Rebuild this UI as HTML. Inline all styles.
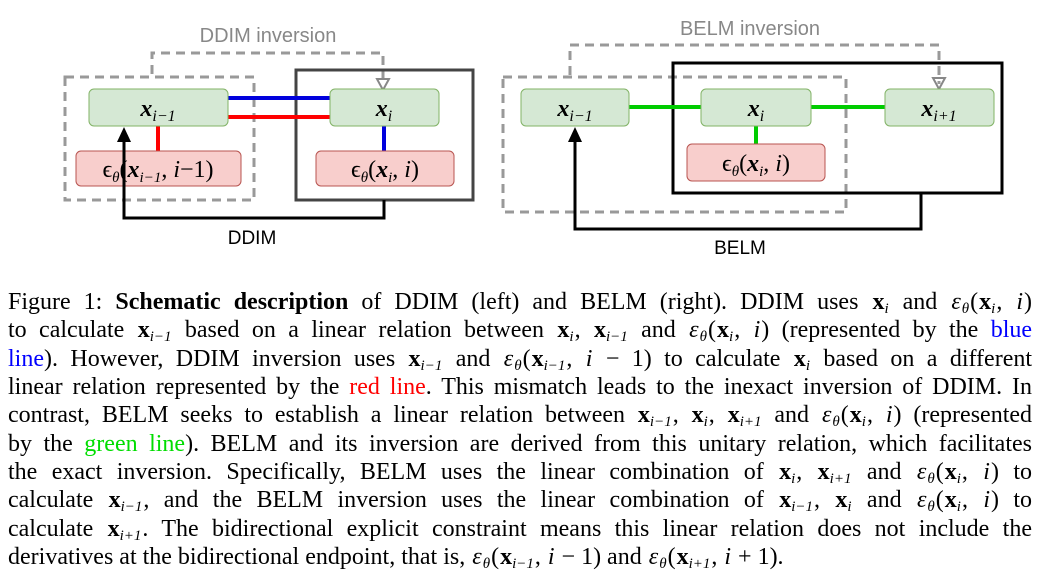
<!DOCTYPE html>
<html><head><meta charset="utf-8"><style>
body{margin:0;width:1047px;height:578px;background:#fff;overflow:hidden;position:relative}
svg{position:absolute;left:0;top:0}
.cap{position:absolute;left:8px;width:1024px;font-family:"Liberation Serif",serif;font-size:24px;color:#000}
.ln{height:28.33px;line-height:28.33px;white-space:nowrap;text-align:justify;text-align-last:justify}
.ln.last{text-align-last:left}
.b{font-weight:bold}
.m{font-weight:bold;margin-left:1px}
sub{font-size:15px;font-style:italic;font-weight:normal;vertical-align:-4px;line-height:0;margin-right:1px}
i{font-style:italic;margin:0 1px}
.bl{color:#0000ff}.rd{color:#ff0000}.gr{color:#00dd00}
</style></head><body>
<svg width="1047" height="280" viewBox="0 0 1047 280" font-family="Liberation Serif,serif">
<text x="268" y="42" font-family="Liberation Sans,sans-serif" font-size="20" fill="#888" text-anchor="middle">DDIM inversion</text>
<path d="M152 74 V53 H383 V84" fill="none" stroke="#999" stroke-width="3" stroke-dasharray="9,6"/>
<path d="M377 79 L389 79 L383 90 Z" fill="none" stroke="#888" stroke-width="2"/>
<rect x="65" y="77" width="189" height="123" fill="none" stroke="#999" stroke-width="3" stroke-dasharray="9,6"/>
<rect x="296" y="70" width="177" height="130" fill="none" stroke="#444" stroke-width="3"/>
<line x1="228" y1="98" x2="330" y2="98" stroke="#0000dd" stroke-width="4"/>
<line x1="228" y1="117" x2="330" y2="117" stroke="#ff0000" stroke-width="4"/>
<line x1="158" y1="126" x2="158" y2="151" stroke="#ff0000" stroke-width="4"/>
<line x1="384" y1="126" x2="384" y2="151" stroke="#0000dd" stroke-width="4"/>
<rect x="89" y="89" width="139" height="37" rx="5" fill="#d5e8d4" stroke="#82b366"/>
<rect x="330" y="89" width="109" height="37" rx="5" fill="#d5e8d4" stroke="#82b366"/>
<rect x="76" y="151" width="165" height="35" rx="5" fill="#f8cecc" stroke="#b85450"/>
<rect x="316" y="151" width="138" height="35" rx="5" fill="#f8cecc" stroke="#b85450"/>
<text x="158" y="116" font-size="24" text-anchor="middle" font-style="italic" font-weight="bold">x<tspan font-size="16" dy="5" font-weight="normal">i−1</tspan></text>
<text x="384" y="116" font-size="24" text-anchor="middle" font-style="italic" font-weight="bold">x<tspan font-size="16" dy="5" font-weight="normal">i</tspan></text>
<text x="158" y="177" font-size="24" text-anchor="middle">ϵ<tspan font-size="15" dy="5" font-style="italic">θ</tspan><tspan dy="-5">(</tspan><tspan font-style="italic" font-weight="bold">x</tspan><tspan font-size="15" dy="5" font-style="italic">i−1</tspan><tspan dy="-5">, </tspan><tspan font-style="italic">i</tspan>−1)</text>
<text x="385" y="177" font-size="24" text-anchor="middle">ϵ<tspan font-size="15" dy="5" font-style="italic">θ</tspan><tspan dy="-5">(</tspan><tspan font-style="italic" font-weight="bold">x</tspan><tspan font-size="15" dy="5" font-style="italic">i</tspan><tspan dy="-5">, </tspan><tspan font-style="italic">i</tspan>)</text>
<path d="M384 200 V218 H124 V140" fill="none" stroke="#000" stroke-width="3"/>
<path d="M117 142 L131 142 L124 127 Z" fill="#000"/>
<text x="252" y="244" font-family="Liberation Sans,sans-serif" font-size="19" text-anchor="middle">DDIM</text>
<text x="750" y="35" font-family="Liberation Sans,sans-serif" font-size="20" fill="#888" text-anchor="middle">BELM inversion</text>
<path d="M570 75 V45 H939 V84" fill="none" stroke="#999" stroke-width="3" stroke-dasharray="9,6"/>
<path d="M933 78 L945 78 L939 89 Z" fill="none" stroke="#888" stroke-width="2"/>
<rect x="503" y="77" width="343" height="135" fill="none" stroke="#999" stroke-width="3" stroke-dasharray="9,6"/>
<rect x="673" y="63" width="329" height="130" fill="none" stroke="#000" stroke-width="3"/>
<line x1="629" y1="107" x2="885" y2="107" stroke="#00cc00" stroke-width="4"/>
<line x1="756" y1="126" x2="756" y2="144" stroke="#00cc00" stroke-width="4"/>
<rect x="521" y="89" width="108" height="37" rx="5" fill="#d5e8d4" stroke="#82b366"/>
<rect x="701" y="89" width="110" height="37" rx="5" fill="#d5e8d4" stroke="#82b366"/>
<rect x="885" y="89" width="109" height="37" rx="5" fill="#d5e8d4" stroke="#82b366"/>
<rect x="687" y="144" width="138" height="37" rx="5" fill="#f8cecc" stroke="#b85450"/>
<text x="575" y="116" font-size="24" text-anchor="middle" font-style="italic" font-weight="bold">x<tspan font-size="16" dy="5" font-weight="normal">i−1</tspan></text>
<text x="756" y="116" font-size="24" text-anchor="middle" font-style="italic" font-weight="bold">x<tspan font-size="16" dy="5" font-weight="normal">i</tspan></text>
<text x="939" y="116" font-size="24" text-anchor="middle" font-style="italic" font-weight="bold">x<tspan font-size="16" dy="5" font-weight="normal">i+1</tspan></text>
<text x="756" y="171" font-size="24" text-anchor="middle">ϵ<tspan font-size="15" dy="5" font-style="italic">θ</tspan><tspan dy="-5">(</tspan><tspan font-style="italic" font-weight="bold">x</tspan><tspan font-size="15" dy="5" font-style="italic">i</tspan><tspan dy="-5">, </tspan><tspan font-style="italic">i</tspan>)</text>
<path d="M921 193 V229 H575 V140" fill="none" stroke="#000" stroke-width="3"/>
<path d="M568 142 L582 142 L575 127 Z" fill="#000"/>
<text x="740" y="254" font-family="Liberation Sans,sans-serif" font-size="19" text-anchor="middle">BELM</text>
</svg>
<div class="cap" style="top:288px">
<div class="ln">Figure 1: <span class="b">Schematic description</span> of DDIM (left) and BELM (right). DDIM uses <span class="m">x</span><sub>i</sub> and <i>ε</i><sub>θ</sub>(<span class="m">x</span><sub>i</sub>,&nbsp;<i>i</i>)</div>
<div class="ln">to calculate <span class="m">x</span><sub>i−1</sub> based on a linear relation between <span class="m">x</span><sub>i</sub>,&nbsp;<span class="m">x</span><sub>i−1</sub> and <i>ε</i><sub>θ</sub>(<span class="m">x</span><sub>i</sub>,&nbsp;<i>i</i>) (represented by the <span class="bl">blue</span></div>
<div class="ln"><span class="bl">line</span>). However, DDIM inversion uses <span class="m">x</span><sub>i−1</sub> and <i>ε</i><sub>θ</sub>(<span class="m">x</span><sub>i−1</sub>,&nbsp;<i>i</i>&nbsp;−&nbsp;1) to calculate <span class="m">x</span><sub>i</sub> based on a different</div>
<div class="ln">linear relation represented by the <span class="rd">red line</span>. This mismatch leads to the inexact inversion of DDIM. In</div>
<div class="ln">contrast, BELM seeks to establish a linear relation between <span class="m">x</span><sub>i−1</sub>,&nbsp;<span class="m">x</span><sub>i</sub>,&nbsp;<span class="m">x</span><sub>i+1</sub> and <i>ε</i><sub>θ</sub>(<span class="m">x</span><sub>i</sub>,&nbsp;<i>i</i>) (represented</div>
<div class="ln">by the <span class="gr">green line</span>). BELM and its inversion are derived from this unitary relation, which facilitates</div>
<div class="ln">the exact inversion. Specifically, BELM uses the linear combination of <span class="m">x</span><sub>i</sub>,&nbsp;<span class="m">x</span><sub>i+1</sub> and <i>ε</i><sub>θ</sub>(<span class="m">x</span><sub>i</sub>,&nbsp;<i>i</i>) to</div>
<div class="ln">calculate <span class="m">x</span><sub>i−1</sub>, and the BELM inversion uses the linear combination of <span class="m">x</span><sub>i−1</sub>,&nbsp;<span class="m">x</span><sub>i</sub> and <i>ε</i><sub>θ</sub>(<span class="m">x</span><sub>i</sub>,&nbsp;<i>i</i>) to</div>
<div class="ln">calculate <span class="m">x</span><sub>i+1</sub>. The bidirectional explicit constraint means this linear relation does not include the</div>
<div class="ln last">derivatives at the bidirectional endpoint, that is, <i>ε</i><sub>θ</sub>(<span class="m">x</span><sub>i−1</sub>,&nbsp;<i>i</i>&nbsp;−&nbsp;1) and <i>ε</i><sub>θ</sub>(<span class="m">x</span><sub>i+1</sub>,&nbsp;<i>i</i>&nbsp;+&nbsp;1).</div>
</div>
</body></html>
